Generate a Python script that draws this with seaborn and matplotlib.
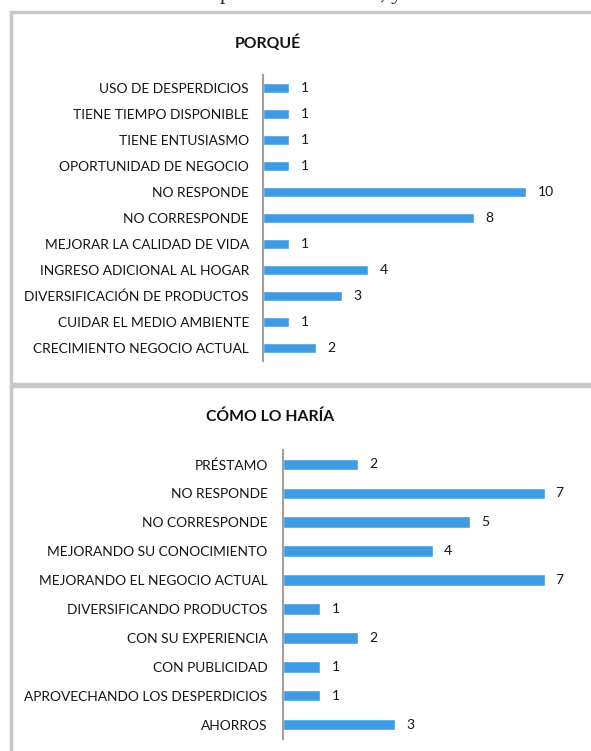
import matplotlib
matplotlib.use("Agg")
import numpy as np
import pandas as pd
import seaborn as sns
import matplotlib.pyplot as plt
from matplotlib.patches import Rectangle

# datos: PORQUÉ
porque_labels = ["USO DE DESPERDICIOS", "TIENE TIEMPO DISPONIBLE", "TIENE ENTUSIASMO",
                 "OPORTUNIDAD DE NEGOCIO", "NO RESPONDE", "NO CORRESPONDE",
                 "MEJORAR LA CALIDAD DE VIDA", "INGRESO ADICIONAL AL HOGAR",
                 "DIVERSIFICACIÓN DE PRODUCTOS", "CUIDAR EL MEDIO AMBIENTE",
                 "CRECIMIENTO NEGOCIO ACTUAL"]
porque_values = [1, 1, 1, 1, 10, 8, 1, 4, 3, 1, 2]

# datos: CÓMO LO HARÍA
como_labels = ["PRÉSTAMO", "NO RESPONDE", "NO CORRESPONDE", "MEJORANDO SU CONOCIMIENTO",
               "MEJORANDO EL NEGOCIO ACTUAL", "DIVERSIFICANDO PRODUCTOS",
               "CON SU EXPERIENCIA", "CON PUBLICIDAD", "APROVECHANDO LOS DESPERDICIOS",
               "AHORROS"]
como_values = [2, 7, 5, 4, 7, 1, 2, 1, 1, 3]

sns.set_style("white")
plt.rcParams['font.family'] = ['Lato', 'DejaVu Sans']

W, H = 591, 751
fig = plt.figure(figsize=(W / 100, H / 100), dpi=100)

def px(x0, y0, x1, y1):
    # caja en pixeles (origen arriba a la izquierda) -> coords de figura
    return [x0 / W, 1 - y1 / H, (x1 - x0) / W, (y1 - y0) / H]

# marcos de los paneles
border = "#c8c8c8"
fig.patches.append(Rectangle((11 / W, 1 - 384 / H), 600 / W, (384 - 12) / H,
                             transform=fig.transFigure, fill=False,
                             edgecolor=border, linewidth=2.5))
fig.patches.append(Rectangle((11 / W, -0.05), 600 / W, 1.05 - 386 / H,
                             transform=fig.transFigure, fill=False,
                             edgecolor=border, linewidth=2.5))

# restos del texto del documento, cortado arriba
fig.text(220 / W, 1 + 1 / H, "p", family="Liberation Serif", fontsize=16, va="baseline")
fig.text(380 / W, 1 + 1 / H, ", y", family="Liberation Serif", fontsize=16, va="baseline")

bar_color = "#3f9ce2"
txt = "#151515"

def panel(box, labels, values, xmax, title, title_xy, pad):
    ax = fig.add_axes(px(*box))
    df = pd.DataFrame({"cat": labels, "val": values})
    sns.barplot(data=df, x="val", y="cat", orient="h", color=bar_color,
                width=0.4, saturation=1, ax=ax)
    ax.set_xlim(0, xmax)
    ax.set_ylim(len(labels) - 0.5, -0.5)
    ax.set_xlabel("")
    ax.set_ylabel("")
    ax.set_xticks([])
    ax.tick_params(axis="y", length=0, pad=pad, labelsize=9.9, labelcolor=txt)
    for s in ["top", "right", "bottom"]:
        ax.spines[s].set_visible(False)
    ax.spines["left"].set_color("#a0a0a0")
    ax.spines["left"].set_linewidth(1.5)
    ax.bar_label(ax.containers[0], padding=8, fontsize=10, color=txt)
    fig.text(title_xy[0] / W, 1 - title_xy[1] / H, title, ha="center", va="center",
             fontsize=11.3, fontweight="bold", color="#111111")
    return ax

panel((263, 75, 566, 361), porque_labels, porque_values, 11.5, "PORQUÉ", (268, 43), 10)
panel((283, 450, 582, 739), como_labels, como_values, 8, "CÓMO LO HARÍA", (270, 417), 11)

fig.savefig("out.png", dpi=100)
